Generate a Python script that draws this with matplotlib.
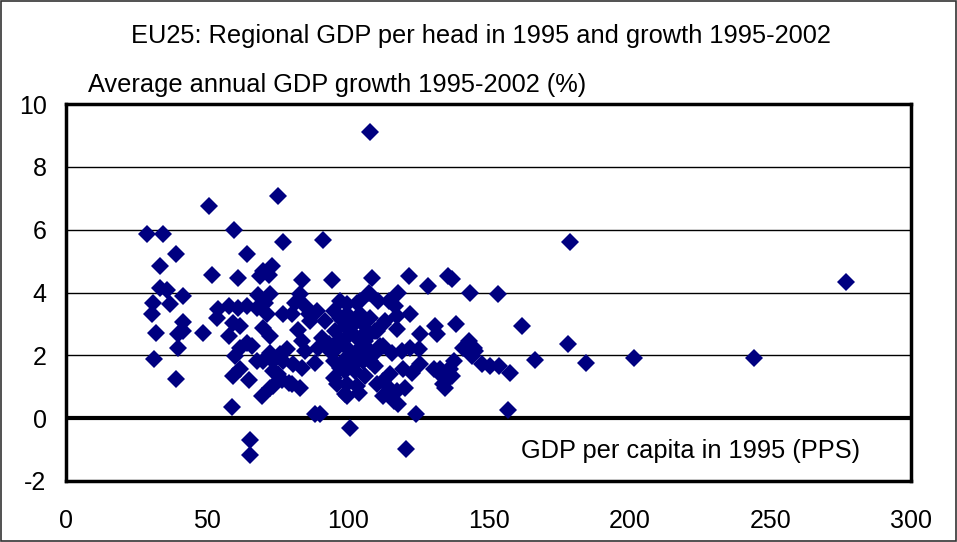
import numpy as np
import matplotlib.pyplot as plt
from matplotlib.patches import Rectangle

# GDP per head 1995 (PPS, EU25=100) and average annual growth 1995-2002 (%)
gdp_1995 = [
    28.9, 34.6, 50.9, 59.6, 75.2, 108.0, 39.0, 33.4, 51.8, 60.9,
    64.2, 33.4, 35.8, 41.4, 30.8, 36.9, 30.4, 41.7, 32.0, 39.9,
    41.7, 48.8, 39.7, 31.3, 39.0, 54.1, 53.5, 57.7, 61.2, 64.2,
    59.4, 61.6, 58.0, 61.8, 64.2, 60.0, 61.8, 59.4, 64.8, 58.9,
    65.4, 65.4, 77.2, 91.4, 70.1, 73.1, 71.9, 68.9, 83.7, 94.4,
    68.3, 72.5, 70.7, 71.3, 67.7, 83.1, 81.3, 84.9, 89.1, 77.2,
    80.2, 86.1, 86.7, 70.1, 72.5, 82.5, 95.0, 97.3, 99.7, 90.8,
    93.2, 89.6, 97.3, 96.2, 99.7, 83.7, 84.9, 66.0, 78.4, 76.0,
    72.5, 70.1, 67.7, 73.6, 77.2, 80.7, 83.7, 88.5, 73.6, 75.4,
    95.0, 97.3, 95.0, 96.2, 99.7, 99.1, 76.6, 79.0, 80.2, 83.1,
    73.6, 72.5, 69.5, 88.5, 90.2, 101.0, 108.6, 121.6, 128.5, 135.5,
    107.4, 118.0, 110.9, 114.5, 116.9, 103.3, 122.2, 117.5, 99.7, 104.4,
    108.0, 131.1, 131.7, 125.8, 112.7, 117.5, 110.4, 98.5, 102.1, 105.6,
    100.9, 104.4, 108.0, 103.3, 106.8, 98.5, 102.1, 105.6, 109.2, 112.7,
    115.7, 119.3, 122.2, 125.2, 125.8, 122.8, 119.8, 130.5, 132.9, 135.2,
    134.0, 115.1, 112.7, 110.4, 115.1, 117.5, 120.4, 112.7, 116.3, 118.0,
    99.7, 103.9, 103.3, 124.3, 120.8, 179.0, 137.2, 143.5, 153.3, 138.4,
    161.9, 178.2, 166.4, 184.6, 201.5, 142.9, 141.1, 144.7, 144.1, 145.3,
    137.6, 136.4, 135.2, 137.0, 134.6, 132.9, 147.7, 150.6, 153.6, 157.7,
    156.9, 277.1, 244.4, 92.0, 95.6, 99.1, 102.7, 106.2, 109.8, 93.8,
    100.9, 104.4, 108.0, 111.5, 113.3, 97.3, 104.4, 109.8, 102.7, 106.2,
    99.1,
]
growth = [
    5.85, 5.85, 6.74, 5.99, 7.06, 9.11, 5.21, 4.84, 4.57, 4.45,
    5.21, 4.13, 4.08, 3.90, 3.68, 3.63, 3.31, 3.07, 2.72, 2.69,
    2.78, 2.72, 2.22, 1.89, 1.25, 3.47, 3.20, 3.57, 3.52, 3.57,
    3.04, 2.94, 2.62, 2.24, 2.40, 1.98, 1.55, 1.34, 1.20, 0.36,
    -0.71, -1.16, 5.60, 5.67, 4.69, 4.85, 4.56, 4.53, 4.39, 4.39,
    3.93, 3.95, 3.68, 3.31, 3.52, 3.95, 3.68, 3.57, 3.42, 3.31,
    3.31, 3.31, 3.10, 2.88, 2.62, 2.80, 3.42, 3.20, 3.63, 2.56,
    2.35, 2.24, 2.51, 2.24, 2.24, 2.46, 2.14, 2.30, 2.19, 2.03,
    2.08, 1.82, 1.82, 1.82, 1.82, 1.71, 1.61, 1.77, 1.50, 1.39,
    1.82, 1.61, 1.29, 1.08, 1.08, 0.76, 1.23, 1.13, 1.08, 0.97,
    1.02, 0.97, 0.70, 0.12, 0.12, -0.31, 4.46, 4.53, 4.21, 4.53,
    4.00, 4.00, 3.73, 3.73, 3.57, 3.68, 3.31, 3.26, 3.31, 3.31,
    3.20, 2.94, 2.67, 2.67, 2.99, 2.83, 2.78, 3.10, 2.99, 2.99,
    2.67, 2.56, 2.67, 2.14, 2.24, 1.82, 1.71, 1.82, 2.03, 2.30,
    2.08, 2.14, 2.24, 2.19, 1.71, 1.45, 1.55, 1.55, 1.55, 1.50,
    1.08, 1.39, 1.18, 1.08, 0.92, 0.86, 0.97, 0.70, 0.54, 0.44,
    0.70, 0.81, 1.02, 0.12, -0.97, 5.60, 4.43, 4.00, 3.95, 2.99,
    2.92, 2.35, 1.84, 1.77, 1.93, 2.46, 2.24, 2.24, 1.98, 2.14,
    1.82, 1.55, 1.29, 1.34, 0.97, 1.39, 1.71, 1.66, 1.66, 1.45,
    0.25, 4.32, 1.90, 3.10, 2.78, 2.94, 2.62, 2.46, 2.78, 2.14,
    1.98, 2.14, 1.82, 2.30, 3.10, 3.73, 3.73, 1.66, 1.50, 1.34,
    1.50,
]

x_ticks = [0, 50, 100, 150, 200, 250, 300]
y_ticks = [-2, 0, 2, 4, 6, 8, 10]

plt.rcParams['font.family'] = ['Liberation Sans', 'DejaVu Sans']
plt.rcParams['axes.unicode_minus'] = False

fig = plt.figure(figsize=(9.57, 5.42), dpi=100)
ax = fig.add_axes([66 / 957, 1 - 481 / 542, 845 / 957, 377 / 542])

for g in [2, 4, 6, 8]:
    ax.axhline(g, color='black', lw=1.0, zorder=1)
ax.axhline(0, color='black', lw=3.0, zorder=1)

ax.plot(gdp_1995, growth, 'D', color='#000080', markersize=9.2,
        markeredgewidth=0, zorder=3)

ax.set_xlim(0, 300)
ax.set_ylim(-2, 10)
ax.set_xticks(x_ticks)
ax.set_yticks(y_ticks)
ax.tick_params(length=0, labelsize=18)
ax.tick_params(axis='x', pad=20)
ax.tick_params(axis='y', pad=14)
for s in ax.spines.values():
    s.set_linewidth(2.5)

fig.text(0.503, 1 - 36 / 542, 'EU25: Regional GDP per head in 1995 and growth 1995-2002',
         ha='center', va='center', fontsize=18.3)
fig.text(88 / 957, 1 - 85 / 542, 'Average annual GDP growth 1995-2002 (%)',
         ha='left', va='center', fontsize=18.3)
ax.text(860 / 957, 1 - 451 / 542, 'GDP per capita in 1995 (PPS)',
        transform=fig.transFigure, ha='right', va='center', fontsize=18.3)

fig.patches.append(Rectangle((0.001, 0.001), 0.998, 0.998, transform=fig.transFigure,
                             fill=False, edgecolor='#333333', lw=1.2))

fig.savefig('out.png', dpi=100)
